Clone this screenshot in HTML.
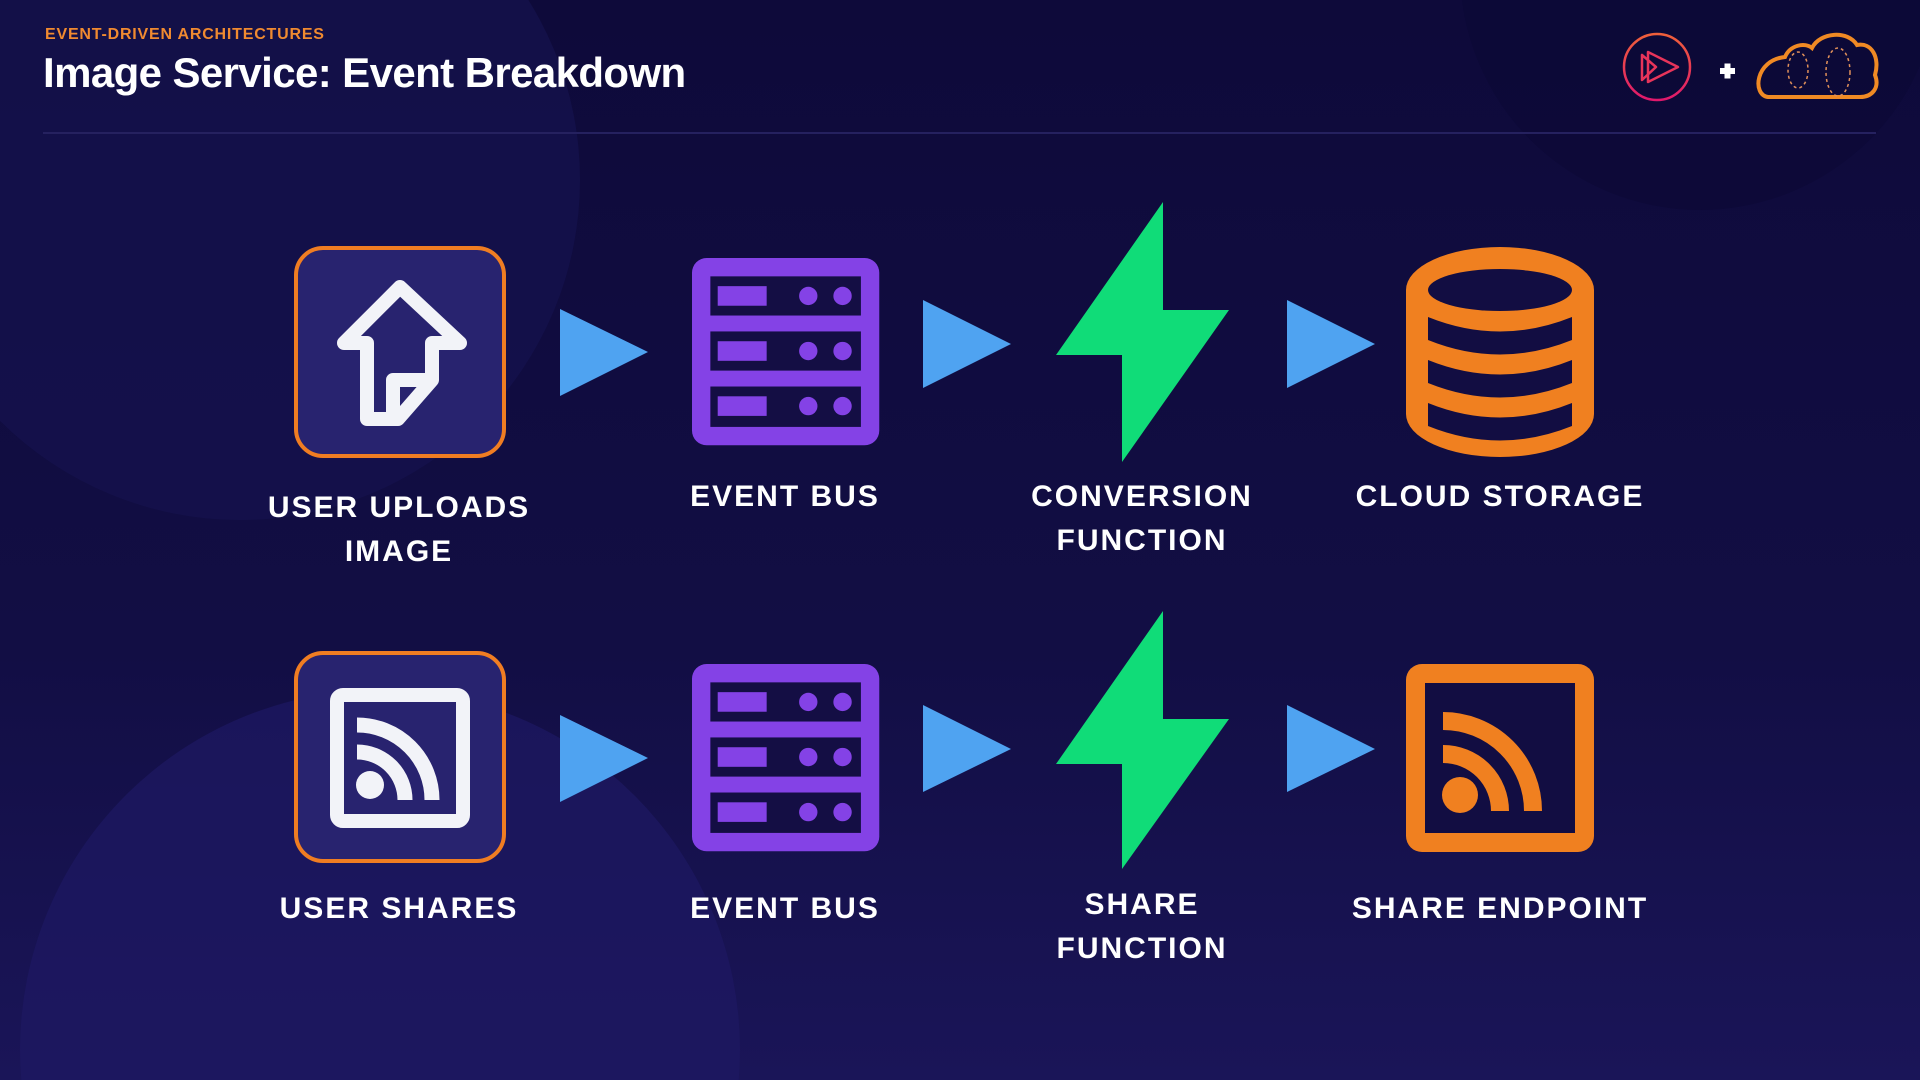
<!DOCTYPE html>
<html><head><meta charset="utf-8"><style>
html,body{margin:0;padding:0;overflow:hidden;width:1920px;height:1080px}
body{background:#100c3e;position:relative;font-family:"Liberation Sans",sans-serif}
.lbl{position:absolute;color:#fff;font-weight:bold;font-size:30px;letter-spacing:2px;text-align:center;width:400px;line-height:44px}
</style></head><body>
<svg width="1920" height="1080" style="position:absolute;left:0;top:0">
<defs><linearGradient id="pg" x1="0" y1="0" x2="0" y2="1"><stop offset="0" stop-color="#f0603a"/><stop offset="1" stop-color="#e0186c"/></linearGradient>
<linearGradient id="bg" x1="0" y1="0" x2="0" y2="1"><stop offset="0" stop-color="#0e0a3a"/><stop offset="0.6" stop-color="#120e44"/><stop offset="1" stop-color="#1a1558"/></linearGradient></defs>
<rect width="1920" height="1080" fill="url(#bg)"/>
<circle cx="240" cy="180" r="340" fill="#16124f" opacity="0.7"/>
<circle cx="380" cy="1050" r="360" fill="#1d1862" opacity="0.75"/>
<circle cx="1700" cy="-30" r="240" fill="#0b0836" opacity="0.6"/>
<line x1="43" y1="133" x2="1876" y2="133" stroke="#25215f" stroke-width="2"/>
<!-- logos -->
<circle cx="1657" cy="67" r="33" fill="none" stroke="url(#pg)" stroke-width="2.5"/>
<path d="M1642,55 L1642,80 L1656,67 Z M1648,52 L1648,82 L1678,67 Z" fill="none" stroke="#e8345a" stroke-width="2.5" stroke-linejoin="round"/>
<path d="M1720,71 h15 M1727.5,63.5 v15" stroke="#fff" stroke-width="6"/>
<path d="M1768,97 C1752,95 1755,60 1785,57 C1790,45 1805,42 1812,48 C1820,32 1848,30 1857,45 C1872,42 1880,58 1875,75 C1880,88 1872,97 1860,97 Z" fill="none" stroke="#f08a24" stroke-width="4"/>
<ellipse cx="1798" cy="70" rx="10" ry="18" fill="none" stroke="#e0905a" stroke-width="1.5" stroke-dasharray="3 3"/>
<ellipse cx="1838" cy="72" rx="12" ry="24" fill="none" stroke="#e0905a" stroke-width="1.5" stroke-dasharray="3 3"/>
<!-- Row 1 -->
<rect x="296" y="248" width="208" height="208" rx="27" fill="#28236f" stroke="#f07d22" stroke-width="4"/>
<path d="M367,343 L344,343 L400,287 L460,343 L432,343 L432,380 L398,419 L367,419 Z M432,380 L393,380 L393,419" fill="none" stroke="#f2f3f8" stroke-width="14" stroke-linejoin="round"/>
<polygon points="560,309 648,352 560,396" fill="#4fa3f1"/>
<g transform="translate(692,258) scale(1.224)">
<rect x="0" y="0" width="153" height="153" rx="12" fill="#8442e6"/>
<g fill="#140e44"><rect x="15" y="15" width="123" height="32"/><rect x="15" y="60" width="123" height="32"/><rect x="15" y="105" width="123" height="33"/></g>
<g fill="#8442e6"><rect x="21" y="23" width="40" height="16"/><circle cx="95" cy="31" r="7.5"/><circle cx="123" cy="31" r="7.5"/>
<rect x="21" y="68" width="40" height="16"/><circle cx="95" cy="76" r="7.5"/><circle cx="123" cy="76" r="7.5"/>
<rect x="21" y="113" width="40" height="16"/><circle cx="95" cy="121" r="7.5"/><circle cx="123" cy="121" r="7.5"/></g>
</g>
<polygon points="923,300 1011,344 923,388" fill="#4fa3f1"/>
<polygon points="1163,202 1056,355 1122,355 1122,462 1229,310 1163,310" fill="#10dc78"/>
<polygon points="1287,300 1375,344 1287,388" fill="#4fa3f1"/>
<path d="M1406,290 A94,43 0 0 1 1594,290 L1594,414 A94,43 0 0 1 1406,414 Z" fill="#f08020"/>
<ellipse cx="1500" cy="290" rx="72" ry="21" fill="#120d42"/>
<g fill="#120d42">
<path d="M1428,317 Q1500,346 1572,317 L1572,340 Q1500,369 1428,340 Z"/>
<path d="M1428,360 Q1500,389 1572,360 L1572,383 Q1500,412 1428,383 Z"/>
<path d="M1428,403 Q1500,432 1572,403 L1572,426 Q1500,455 1428,426 Z"/>
</g>
<!-- Row 2 -->
<rect x="296" y="653" width="208" height="208" rx="27" fill="#28236f" stroke="#f07d22" stroke-width="4"/>
<rect x="337" y="695" width="126" height="126" rx="6" fill="none" stroke="#f2f3f8" stroke-width="14"/>
<circle cx="370" cy="785" r="14" fill="#f2f3f8"/>
<path d="M357,752 A48,48 0 0 1 405,800 M357,725 A75,75 0 0 1 432,800" fill="none" stroke="#f2f3f8" stroke-width="15"/>
<polygon points="560,715 648,758 560,802" fill="#4fa3f1"/>
<g transform="translate(692,664) scale(1.224)">
<rect x="0" y="0" width="153" height="153" rx="12" fill="#8442e6"/>
<g fill="#140e44"><rect x="15" y="15" width="123" height="32"/><rect x="15" y="60" width="123" height="32"/><rect x="15" y="105" width="123" height="33"/></g>
<g fill="#8442e6"><rect x="21" y="23" width="40" height="16"/><circle cx="95" cy="31" r="7.5"/><circle cx="123" cy="31" r="7.5"/>
<rect x="21" y="68" width="40" height="16"/><circle cx="95" cy="76" r="7.5"/><circle cx="123" cy="76" r="7.5"/>
<rect x="21" y="113" width="40" height="16"/><circle cx="95" cy="121" r="7.5"/><circle cx="123" cy="121" r="7.5"/></g>
</g>
<polygon points="923,705 1011,749 923,792" fill="#4fa3f1"/>
<polygon points="1163,611 1056,764 1122,764 1122,869 1229,719 1163,719" fill="#10dc78"/>
<polygon points="1287,705 1375,749 1287,792" fill="#4fa3f1"/>
<rect x="1406" y="664" width="188" height="188" rx="16" fill="#f08020"/>
<rect x="1425" y="683" width="150" height="150" fill="#120d42"/>
<circle cx="1460" cy="795" r="18" fill="#f08020"/>
<path d="M1443,754 A57,57 0 0 1 1500,811 M1443,721 A90,90 0 0 1 1533,811" fill="none" stroke="#f08020" stroke-width="18"/>
</svg>
<div style="position:absolute;left:45px;top:26px;color:#f08a30;font-weight:bold;font-size:16px;letter-spacing:0.8px">EVENT-DRIVEN ARCHITECTURES</div>
<div style="position:absolute;left:43px;top:49px;color:#fff;font-weight:bold;font-size:42px;letter-spacing:-0.6px">Image Service: Event Breakdown</div>
<div class="lbl" style="left:199px;top:486px">USER UPLOADS<br>IMAGE</div>
<div class="lbl" style="left:585px;top:475px">EVENT BUS</div>
<div class="lbl" style="left:942px;top:475px">CONVERSION<br>FUNCTION</div>
<div class="lbl" style="left:1300px;top:475px">CLOUD STORAGE</div>
<div class="lbl" style="left:199px;top:887px">USER SHARES</div>
<div class="lbl" style="left:585px;top:887px">EVENT BUS</div>
<div class="lbl" style="left:942px;top:883px">SHARE<br>FUNCTION</div>
<div class="lbl" style="left:1300px;top:887px">SHARE ENDPOINT</div>
</body></html>
